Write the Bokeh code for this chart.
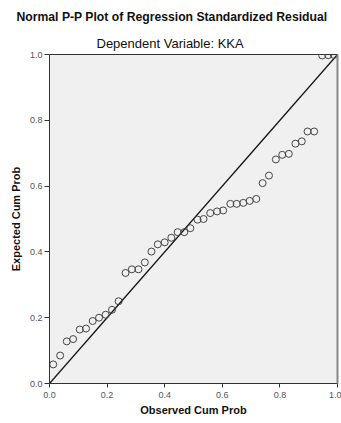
from bokeh.plotting import figure
from bokeh.models import Title, FixedTicker, NumeralTickFormatter, LinearAxis, ColumnDataSource
from bokeh.embed import file_html
from bokeh.resources import INLINE

observed = [0.013, 0.037, 0.060, 0.082, 0.105, 0.127, 0.150, 0.172, 0.195, 0.217,
            0.240, 0.264, 0.286, 0.309, 0.331, 0.354, 0.376, 0.400, 0.423, 0.445,
            0.468, 0.489, 0.514, 0.535, 0.558, 0.582, 0.603, 0.628, 0.650, 0.673,
            0.695, 0.718, 0.740, 0.762, 0.786, 0.808, 0.831, 0.854, 0.876, 0.896,
            0.919, 0.947, 0.968, 0.987]
expected = [0.058, 0.085, 0.128, 0.135, 0.164, 0.167, 0.190, 0.200, 0.209, 0.224,
            0.250, 0.336, 0.347, 0.347, 0.368, 0.401, 0.423, 0.429, 0.443, 0.460,
            0.460, 0.472, 0.498, 0.500, 0.518, 0.523, 0.526, 0.546, 0.546, 0.549,
            0.555, 0.561, 0.609, 0.632, 0.681, 0.695, 0.698, 0.729, 0.736, 0.766,
            0.766, 0.997, 0.998, 0.999]
ref_line_x = [0.0, 1.0]
ref_line_y = [0.0, 1.0]
ticks = [0.0, 0.2, 0.4, 0.6, 0.8, 1.0]

title_text = "Normal P-P Plot of Regression Standardized Residual"
subtitle_text = "Dependent Variable: KKA"
x_label = "Observed Cum Prob"
y_label = "Expected Cum Prob"

FONT = "Liberation Sans"

p = figure(width=341, height=423, output_backend="svg", toolbar_location=None,
           x_range=(0, 1), y_range=(0, 1), title=None,
           min_border_left=49, min_border_right=4, min_border_top=54, min_border_bottom=40)

p.background_fill_color = "#f0f0f0"
p.border_fill_color = "white"
p.outline_line_color = "#333333"
p.outline_line_width = 1
p.grid.visible = False

sub = Title(text=subtitle_text, align="left", text_font=FONT, text_font_size="13px",
            text_font_style="normal", text_color="#111111", offset=47, standoff=8)
main = Title(text=title_text, align="left", text_font=FONT, text_font_size="12.2px",
             text_font_style="bold", text_color="#111111", offset=-33, standoff=12)
p.add_layout(sub, "above")
p.add_layout(main, "above")

for ax in (p.xaxis[0], p.yaxis[0]):
    ax.ticker = FixedTicker(ticks=ticks)
    ax.formatter = NumeralTickFormatter(format="0.0")
    ax.minor_tick_line_color = None
    ax.major_tick_in = 0
    ax.major_tick_line_color = "#333333"
    ax.axis_line_color = "#333333"
    ax.major_label_text_font = FONT
    ax.major_label_text_font_size = "9px"
    ax.major_label_text_color = "#555555"
    ax.axis_label_text_font = FONT
    ax.axis_label_text_font_size = "11px"
    ax.axis_label_text_font_style = "bold"
    ax.axis_label_text_color = "#111111"

p.xaxis[0].major_tick_out = 4
p.xaxis[0].major_label_standoff = 4
p.xaxis[0].axis_label_standoff = 3
p.yaxis[0].major_tick_out = 5
p.yaxis[0].major_label_standoff = 2
p.yaxis[0].axis_label_standoff = 5

p.xaxis[0].axis_label = x_label
p.yaxis[0].axis_label = y_label

right = LinearAxis(ticker=FixedTicker(ticks=[]), axis_line_color="#888888", axis_line_width=2,
                   major_tick_line_color=None, minor_tick_line_color=None,
                   major_label_text_font_size="0px")
p.add_layout(right, "right")

p.line(ref_line_x, ref_line_y, line_color="#111111", line_width=1.2)

src = ColumnDataSource(dict(x=observed, y=expected))
p.scatter("x", "y", source=src, size=7, marker="circle", fill_color=None,
          line_color="#444444", line_width=1)

open("out.html", "w").write(file_html(p, INLINE))
